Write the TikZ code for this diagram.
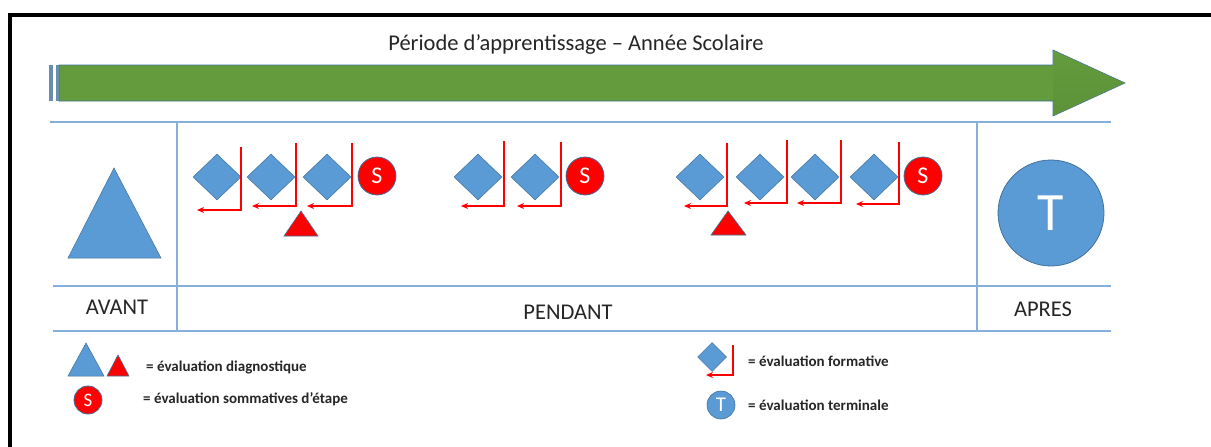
\documentclass[tikz,border=0pt]{standalone}
\usepackage{fontspec}
\setmainfont{Carlito}
\usetikzlibrary{shapes.geometric,arrows.meta}
\definecolor{mblue}{HTML}{5B9BD5}
\definecolor{dblue}{HTML}{41719C}
\definecolor{lblue}{HTML}{85B0DE}
\definecolor{agreen}{HTML}{639B3D}
\definecolor{dgreen}{HTML}{4F7D30}
\definecolor{txt}{HTML}{262626}
\begin{document}
\begin{tikzpicture}[x=1pt,y=-1pt,
  frameline/.style={draw=lblue,line width=1.8pt},
  formdiamond/.style={diamond,fill=mblue,draw=dblue,line width=0.5pt,minimum width=48pt,minimum height=46pt,inner sep=0pt},
  smalldiamond/.style={diamond,fill=mblue,draw=dblue,line width=0.5pt,minimum width=29pt,minimum height=29pt,inner sep=0pt},
  scirc/.style={circle,fill=red,draw=dblue,line width=0.8pt,minimum size=38pt,inner sep=0pt,text=white,font=\fontsize{24}{24}\selectfont},
  lscirc/.style={circle,fill=red,draw=dblue,line width=0.8pt,minimum size=28pt,inner sep=0pt,text=white,font=\fontsize{19}{19}\selectfont},
  ltcirc/.style={circle,fill=mblue,draw=dblue,line width=0.6pt,minimum size=28pt,inner sep=0pt,text=white,font=\fontsize{21}{21}\selectfont},
  redL/.style={draw=red,line width=1.3pt,-{Stealth[length=7pt,width=6pt]}},
  bluetri/.style={fill=mblue,draw=dblue,line width=0.5pt},
  redtri/.style={fill=red,draw=dblue,line width=0.6pt},
  phase/.style={text=txt,font=\fontsize{22.5}{22.5}\selectfont,inner sep=0pt},
  legtext/.style={anchor=west,text=txt,font=\bfseries\fontsize{15}{16}\selectfont,inner sep=0pt}
]
\useasboundingbox (0,0) rectangle (1211,447);
\fill[white] (0,0) rectangle (1211,447);
% outer black frame
\draw[line width=4pt] (10,450) -- (10,15) -- (1215,15);

% title
\node[text=txt,font=\fontsize{22.5}{26}\selectfont,inner sep=0pt] (title) at (576,45) {Période d’apprentissage – Année Scolaire};

% green arrow
\path[fill=agreen,draw=dblue,line width=0.6pt] (59,65) -- (1053,65) -- (1053,50) -- (1125,83) -- (1053,116) -- (1053,101) -- (59,101) -- cycle;
\shade[top color=agreen,bottom color=agreen!70!dgreen] (1053.6,50.8) -- (1124,83) -- (1053.6,115.2) -- cycle;
\fill[dblue!80] (49,65) rectangle (53,101);
\fill[dblue!80] (55.5,65) rectangle (59,101);

% table lines
\draw[frameline] (50,122) -- (1111,122);
\draw[frameline] (53,286) -- (1111,286);
\draw[frameline] (53,331) -- (1111,331);
\draw[frameline] (177,122) -- (177,331);
\draw[frameline] (977,122) -- (977,331);

% AVANT
\path[bluetri] (114,168) -- (161,258) -- (68,258) -- cycle;
\node[phase] (avant) at (117,307) {AVANT};
\node[phase] (pendant) at (568,312) {PENDANT};
\node[phase] (apres) at (1043,309) {APRES};

% APRES circle
\node[circle,fill=mblue,draw=dblue,line width=0.8pt,minimum size=106pt,inner sep=0pt,text=white,font=\fontsize{54}{54}\selectfont] (T) at (1051,213) {T};

% group 1
\node[formdiamond] (d1) at (217,177) {};
\node[formdiamond] (d2) at (271,177) {};
\node[formdiamond] (d3) at (327,177) {};
\node[scirc] (s1) at (377,176) {S};
\coordinate (t1) at (241,147); \coordinate (e1) at (197,210);
\coordinate (t2) at (296,143); \coordinate (e2) at (252,206);
\coordinate (t3) at (352,143); \coordinate (e3) at (307,206);
\draw[redL] (t1) |- (e1);
\draw[redL] (t2) |- (e2);
\draw[redL] (t3) |- (e3);
\path[redtri] (301,211) -- (318,236) -- (284,236) -- cycle;

% group 2
\node[formdiamond] (d4) at (478,177) {};
\node[formdiamond] (d5) at (535,177) {};
\node[scirc] (s2) at (585,176) {S};
\coordinate (t4) at (504,141); \coordinate (e4) at (461,206);
\coordinate (t5) at (561,142); \coordinate (e5) at (517,206);
\draw[redL] (t4) |- (e4);
\draw[redL] (t5) |- (e5);

% group 3
\node[formdiamond] (d6) at (700,177) {};
\node[formdiamond] (d7) at (760,177) {};
\node[formdiamond] (d8) at (815,177) {};
\node[formdiamond] (d9) at (874,177) {};
\node[scirc] (s3) at (923,176) {S};
\coordinate (t6) at (727,143); \coordinate (e6) at (684,206);
\coordinate (t7) at (787,140); \coordinate (e7) at (744,203);
\coordinate (t8) at (841,140); \coordinate (e8) at (797,203);
\coordinate (t9) at (899,142); \coordinate (e9) at (856,204);
\draw[redL] (t6) |- (e6);
\draw[redL] (t7) |- (e7);
\draw[redL] (t8) |- (e8);
\draw[redL] (t9) |- (e9);
\path[redtri] (728,211) -- (746,235) -- (711,235) -- cycle;

% legend left
\path[bluetri] (86,343) -- (104,376) -- (68,376) -- cycle;
\path[redtri] (118,355) -- (129,376) -- (107,376) -- cycle;
\node[legtext] (l1) at (146,367) {= évaluation diagnostique};
\node[lscirc] (ls) at (88,400) {S};
\node[legtext] (l2) at (143,399) {= évaluation sommatives d’étape};

% legend right
\node[smalldiamond] (ld) at (712,357) {};
\coordinate (lt) at (733,345); \coordinate (le) at (706,375);
\draw[redL] (lt) |- (le);
\node[legtext] (l3) at (748,361) {= évaluation formative};
\node[ltcirc] (lT) at (721,405) {T};
\node[legtext] (l4) at (748,405) {= évaluation terminale};
\end{tikzpicture}
\end{document}
